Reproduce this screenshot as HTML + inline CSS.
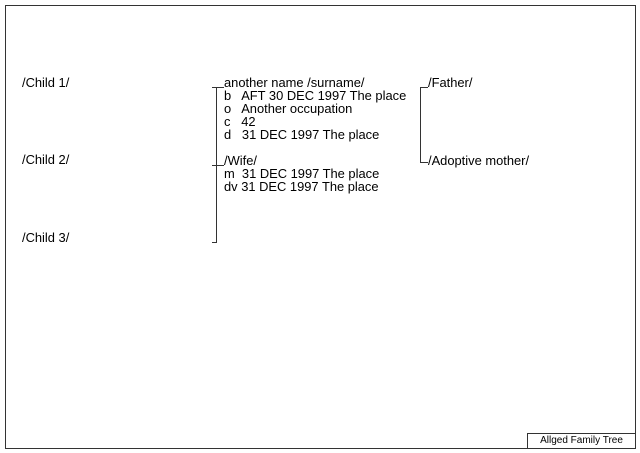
<!DOCTYPE html><html><head><style>
body{margin:0;width:640px;height:453px;background:#fff;position:relative;font-family:"Liberation Sans",Arial,sans-serif;font-size:12.9px;color:#000;overflow:hidden}
.t{position:absolute;white-space:pre;line-height:13px}
.l{position:absolute;background:#333}
</style></head><body>
<div style="position:absolute;left:5px;top:5px;width:629px;height:442px;border:1px solid #333"></div>
<div style="position:absolute;left:527px;top:433px;width:107px;height:14px;border-left:1px solid #333;border-top:1px solid #333;font-size:10px;text-align:center;line-height:14px">Allged Family Tree</div>
<div class="t" style="left:22px;top:76px">/Child 1/</div>
<div class="t" style="left:22px;top:153px">/Child 2/</div>
<div class="t" style="left:22px;top:231px">/Child 3/</div>
<div class="t" style="left:224px;top:76px">another name /surname/
b   AFT 30 DEC 1997 The place
o   Another occupation
c   42
d   31 DEC 1997 The place</div>
<div class="t" style="left:224px;top:154px">/Wife/
m  31 DEC 1997 The place
dv 31 DEC 1997 The place</div>
<div class="t" style="left:428px;top:76px">/Father/</div>
<div class="t" style="left:428px;top:154px">/Adoptive mother/</div>
<div class="l" style="left:216px;top:87px;width:1px;height:155px"></div>
<div class="l" style="left:212px;top:87px;width:12px;height:1px"></div>
<div class="l" style="left:212px;top:165px;width:12px;height:1px"></div>
<div class="l" style="left:212px;top:242px;width:5px;height:1px"></div>
<div class="l" style="left:420px;top:87px;width:1px;height:76px"></div>
<div class="l" style="left:420px;top:87px;width:8px;height:1px"></div>
<div class="l" style="left:420px;top:162px;width:8px;height:1px"></div>
</body></html>
